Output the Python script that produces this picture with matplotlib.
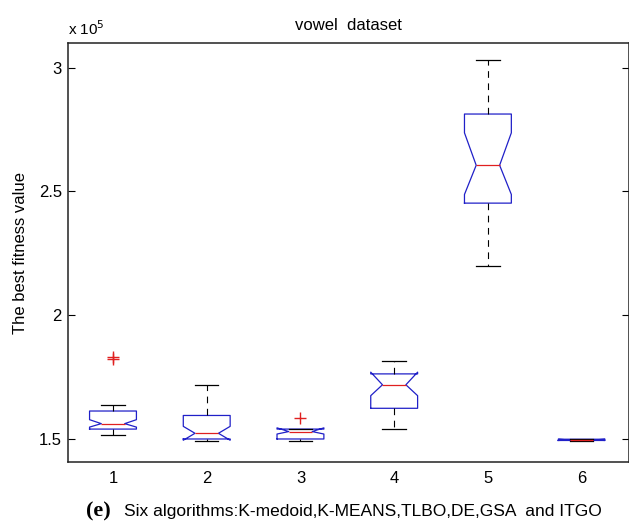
import matplotlib
matplotlib.use('Agg')
from matplotlib import pyplot as plt

plt.rcParams['font.family'] = ['Liberation Sans', 'DejaVu Sans']

# values in units of 1e5
positions = [1, 2, 3, 4, 5, 6]
q1 = [1.540, 1.500, 1.500, 1.624, 2.453, 1.494]
med = [1.562, 1.523, 1.530, 1.719, 2.606, 1.496]
q3 = [1.613, 1.595, 1.540, 1.763, 2.813, 1.499]
whislo = [1.516, 1.493, 1.490, 1.540, 2.198, 1.492]
whishi = [1.636, 1.720, 1.540, 1.816, 3.030, 1.501]
cilo = [1.548, 1.495, 1.520, 1.675, 2.488, 1.494]
cihi = [1.578, 1.551, 1.545, 1.770, 2.737, 1.499]
fliers = [[1.825, 1.832], [], [1.585], [], [], []]

stats = []
for i in range(len(positions)):
	stats.append(dict(med=med[i], q1=q1[i], q3=q3[i], whislo=whislo[i], whishi=whishi[i],
		cilo=cilo[i], cihi=cihi[i], fliers=fliers[i]))

fig = plt.figure(figsize=(6.29, 5.28), dpi=100)
ax = fig.add_axes([68/629, 1-462/528, (628.5-68)/629, (462-43)/528])

ax.bxp(stats, positions=positions, widths=0.5, shownotches=True,
	boxprops=dict(color='#2020c8', linewidth=0.9),
	medianprops=dict(color='#e02020', linewidth=0.9),
	whiskerprops=dict(color='black', linewidth=0.8, linestyle=(0, (6, 5))),
	capprops=dict(color='black', linewidth=0.9),
	flierprops=dict(marker='+', markeredgecolor='#e02020', markersize=8, markeredgewidth=1.0, linestyle='none'))

ax.set_xlim(0.52, 6.5)
ax.set_ylim(1.407, 3.10)
ax.set_yticks([1.5, 2, 2.5, 3])
ax.set_yticklabels(['1.5', '2', '2.5', '3'])
ax.set_xticks(positions)
ax.set_xticklabels([str(p) for p in positions])
ax.tick_params(axis='y', direction='in', length=5, width=0.8, right=True, labelsize=12, pad=4.5)
ax.tick_params(axis='x', length=0, labelsize=12, pad=6.5)
for s in ax.spines.values():
	s.set_linewidth(1.1)
	s.set_color('#222222')

ax.set_ylabel('The best fitness value', fontsize=12, labelpad=8)
ax.set_title('vowel  dataset', fontsize=12, pad=9.5)
fig.text(68/629, 1-35/528, r'x 10$^5$', fontsize=11, va='baseline', ha='left')

# caption under the chart
fig.text(86/629, 1-516/528, '(e)', fontsize=16, fontweight='bold', family='Liberation Serif', va='baseline')
fig.text(124/629, 1-516/528, 'Six algorithms:K-medoid,K-MEANS,TLBO,DE,GSA  and ITGO', fontsize=12.5, va='baseline')

fig.savefig('out.png', dpi=100)
